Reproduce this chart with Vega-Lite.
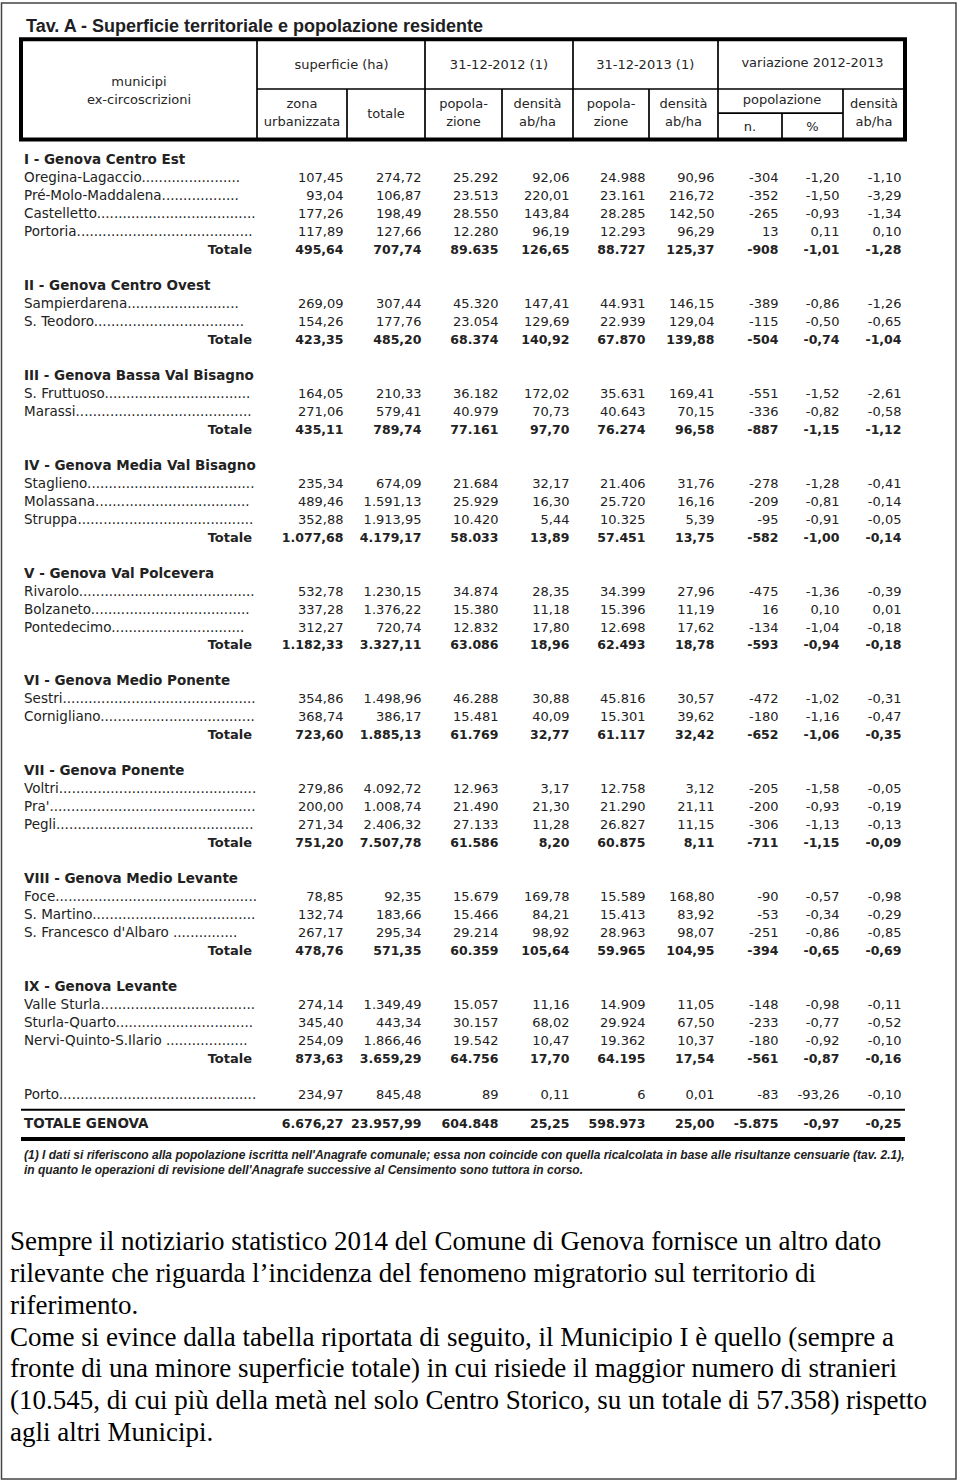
{
  "$schema": "https://vega.github.io/schema/vega-lite/v6.json",
  "width": 954.5,
  "height": 1476,
  "autosize": "none",
  "padding": {"left": 1.5, "top": 3, "right": 4, "bottom": 3},
  "background": "white",
  "config": {
    "view": {"stroke": "#444", "strokeWidth": 1.5},
    "locale": {"number": {"decimal": ",", "thousands": ".", "grouping": [3], "currency": ["€", ""], "minus": "-"}}
  },
  "datasets": {
    "cols": [
      {"key": "zona", "col": 2}, {"key": "totale", "col": 3}, {"key": "pop12", "col": 4},
      {"key": "dens12", "col": 5}, {"key": "pop13", "col": 6}, {"key": "dens13", "col": 7},
      {"key": "vn", "col": 8}, {"key": "vpct", "col": 9}, {"key": "vdens", "col": 10}
    ],
    "lines": [
      {"role": "box", "c0": 0, "c1": 10, "r0": -6.71, "r1": -1.14},
      {"role": "cell", "c0": 1, "c1": 1, "r0": -6.71, "r1": -1.14},
      {"role": "cell", "c0": 3, "c1": 3, "r0": -6.71, "r1": -1.14},
      {"role": "cell", "c0": 5, "c1": 5, "r0": -6.71, "r1": -1.14},
      {"role": "cell", "c0": 7, "c1": 7, "r0": -6.71, "r1": -1.14},
      {"role": "cell", "c0": 1, "c1": 10, "r0": -3.95, "r1": -3.95},
      {"role": "cell", "c0": 2, "c1": 2, "r0": -3.95, "r1": -1.14},
      {"role": "cell", "c0": 4, "c1": 4, "r0": -3.95, "r1": -1.14},
      {"role": "cell", "c0": 6, "c1": 6, "r0": -3.95, "r1": -1.14},
      {"role": "cell", "c0": 9, "c1": 9, "r0": -3.95, "r1": -1.14},
      {"role": "cell", "c0": 7, "c1": 9, "r0": -2.61, "r1": -2.61},
      {"role": "cell", "c0": 8, "c1": 8, "r0": -2.61, "r1": -1.14},
      {"role": "rule", "c0": 0, "c1": 10, "r0": 53, "r1": 53},
      {"role": "end", "c0": 0, "c1": 10, "r0": 55, "r1": 55}
    ],
    "texts": [
      {"role": "title", "text": "Tav. A - Superficie territoriale e popolazione residente", "col": 0, "r": -7.4},
      {"role": "head", "text": "municipi", "col": 0.5, "r": -4.34},
      {"role": "head", "text": "ex-circoscrizioni", "col": 0.5, "r": -3.31},
      {"role": "head", "text": "superficie (ha)", "col": 1.94, "r": -5.31},
      {"role": "head", "text": "31-12-2012 (1)", "col": 3.96, "r": -5.31},
      {"role": "head", "text": "31-12-2013 (1)", "col": 5.95, "r": -5.31},
      {"role": "head", "text": "variazione 2012-2013", "col": 8.5, "r": -5.42},
      {"role": "head", "text": "zona", "col": 1.5, "r": -3.11},
      {"role": "head", "text": "urbanizzata", "col": 1.5, "r": -2.11},
      {"role": "head", "text": "totale", "col": 2.5, "r": -2.56},
      {"role": "head", "text": "popola-", "col": 3.5, "r": -3.11},
      {"role": "head", "text": "zione", "col": 3.5, "r": -2.11},
      {"role": "head", "text": "densità", "col": 4.5, "r": -3.11},
      {"role": "head", "text": "ab/ha", "col": 4.5, "r": -2.11},
      {"role": "head", "text": "popola-", "col": 5.5, "r": -3.11},
      {"role": "head", "text": "zione", "col": 5.5, "r": -2.11},
      {"role": "head", "text": "densità", "col": 6.5, "r": -3.11},
      {"role": "head", "text": "ab/ha", "col": 6.5, "r": -2.11},
      {"role": "head", "text": "popolazione", "col": 8, "r": -3.31},
      {"role": "head", "text": "n.", "col": 7.5, "r": -1.86},
      {"role": "head", "text": "%", "col": 8.5, "r": -1.86},
      {"role": "head", "text": "densità", "col": 9.5, "r": -3.11},
      {"role": "head", "text": "ab/ha", "col": 9.5, "r": -2.11},
      {"role": "foot", "text": "(1) I dati si riferiscono alla popolazione iscritta nell'Anagrafe comunale; essa non coincide con quella ricalcolata in base alle risultanze censuarie (tav. 2.1),", "col": 0, "r": 56},
      {"role": "foot", "text": "in quanto le operazioni di revisione dell'Anagrafe successive al Censimento sono tuttora in corso.", "col": 0, "r": 57},
      {"role": "para", "text": "Sempre il notiziario statistico 2014 del Comune di Genova fornisce un altro dato", "col": -1, "r": 60},
      {"role": "para", "text": "rilevante che riguarda l’incidenza del fenomeno migratorio sul territorio di", "col": -1, "r": 61},
      {"role": "para", "text": "riferimento.", "col": -1, "r": 62},
      {"role": "para", "text": "Come si evince dalla tabella riportata di seguito, il Municipio I è quello (sempre a", "col": -1, "r": 63},
      {"role": "para", "text": "fronte di una minore superficie totale) in cui risiede il maggior numero di stranieri", "col": -1, "r": 64},
      {"role": "para", "text": "(10.545, di cui più della metà nel solo Centro Storico, su un totale di 57.358) rispetto", "col": -1, "r": 65},
      {"role": "para", "text": "agli altri Municipi.", "col": -1, "r": 66}
    ],
    "rows": [
      {"r": 0, "kind": "group", "label": "I - Genova Centro Est"},
      {"r": 1, "kind": "item", "label": "Oregina-Lagaccio.......................", "zona": 107.45, "totale": 274.72, "pop12": 25292, "dens12": 92.06, "pop13": 24988, "dens13": 90.96, "vn": -304, "vpct": -1.20, "vdens": -1.10},
      {"r": 2, "kind": "item", "label": "Pré-Molo-Maddalena..................", "zona": 93.04, "totale": 106.87, "pop12": 23513, "dens12": 220.01, "pop13": 23161, "dens13": 216.72, "vn": -352, "vpct": -1.50, "vdens": -3.29},
      {"r": 3, "kind": "item", "label": "Castelletto.....................................", "zona": 177.26, "totale": 198.49, "pop12": 28550, "dens12": 143.84, "pop13": 28285, "dens13": 142.50, "vn": -265, "vpct": -0.93, "vdens": -1.34},
      {"r": 4, "kind": "item", "label": "Portoria.........................................", "zona": 117.89, "totale": 127.66, "pop12": 12280, "dens12": 96.19, "pop13": 12293, "dens13": 96.29, "vn": 13, "vpct": 0.11, "vdens": 0.10},
      {"r": 5, "kind": "total", "label": "Totale", "zona": 495.64, "totale": 707.74, "pop12": 89635, "dens12": 126.65, "pop13": 88727, "dens13": 125.37, "vn": -908, "vpct": -1.01, "vdens": -1.28},
      {"r": 7, "kind": "group", "label": "II - Genova Centro Ovest"},
      {"r": 8, "kind": "item", "label": "Sampierdarena..........................", "zona": 269.09, "totale": 307.44, "pop12": 45320, "dens12": 147.41, "pop13": 44931, "dens13": 146.15, "vn": -389, "vpct": -0.86, "vdens": -1.26},
      {"r": 9, "kind": "item", "label": "S. Teodoro...................................", "zona": 154.26, "totale": 177.76, "pop12": 23054, "dens12": 129.69, "pop13": 22939, "dens13": 129.04, "vn": -115, "vpct": -0.50, "vdens": -0.65},
      {"r": 10, "kind": "total", "label": "Totale", "zona": 423.35, "totale": 485.20, "pop12": 68374, "dens12": 140.92, "pop13": 67870, "dens13": 139.88, "vn": -504, "vpct": -0.74, "vdens": -1.04},
      {"r": 12, "kind": "group", "label": "III - Genova Bassa Val Bisagno"},
      {"r": 13, "kind": "item", "label": "S. Fruttuoso..................................", "zona": 164.05, "totale": 210.33, "pop12": 36182, "dens12": 172.02, "pop13": 35631, "dens13": 169.41, "vn": -551, "vpct": -1.52, "vdens": -2.61},
      {"r": 14, "kind": "item", "label": "Marassi.........................................", "zona": 271.06, "totale": 579.41, "pop12": 40979, "dens12": 70.73, "pop13": 40643, "dens13": 70.15, "vn": -336, "vpct": -0.82, "vdens": -0.58},
      {"r": 15, "kind": "total", "label": "Totale", "zona": 435.11, "totale": 789.74, "pop12": 77161, "dens12": 97.70, "pop13": 76274, "dens13": 96.58, "vn": -887, "vpct": -1.15, "vdens": -1.12},
      {"r": 17, "kind": "group", "label": "IV - Genova Media Val Bisagno"},
      {"r": 18, "kind": "item", "label": "Staglieno.......................................", "zona": 235.34, "totale": 674.09, "pop12": 21684, "dens12": 32.17, "pop13": 21406, "dens13": 31.76, "vn": -278, "vpct": -1.28, "vdens": -0.41},
      {"r": 19, "kind": "item", "label": "Molassana....................................", "zona": 489.46, "totale": 1591.13, "pop12": 25929, "dens12": 16.30, "pop13": 25720, "dens13": 16.16, "vn": -209, "vpct": -0.81, "vdens": -0.14},
      {"r": 20, "kind": "item", "label": "Struppa.........................................", "zona": 352.88, "totale": 1913.95, "pop12": 10420, "dens12": 5.44, "pop13": 10325, "dens13": 5.39, "vn": -95, "vpct": -0.91, "vdens": -0.05},
      {"r": 21, "kind": "total", "label": "Totale", "zona": 1077.68, "totale": 4179.17, "pop12": 58033, "dens12": 13.89, "pop13": 57451, "dens13": 13.75, "vn": -582, "vpct": -1.00, "vdens": -0.14},
      {"r": 23, "kind": "group", "label": "V - Genova Val Polcevera"},
      {"r": 24, "kind": "item", "label": "Rivarolo.........................................", "zona": 532.78, "totale": 1230.15, "pop12": 34874, "dens12": 28.35, "pop13": 34399, "dens13": 27.96, "vn": -475, "vpct": -1.36, "vdens": -0.39},
      {"r": 25, "kind": "item", "label": "Bolzaneto.....................................", "zona": 337.28, "totale": 1376.22, "pop12": 15380, "dens12": 11.18, "pop13": 15396, "dens13": 11.19, "vn": 16, "vpct": 0.10, "vdens": 0.01},
      {"r": 26, "kind": "item", "label": "Pontedecimo...............................", "zona": 312.27, "totale": 720.74, "pop12": 12832, "dens12": 17.80, "pop13": 12698, "dens13": 17.62, "vn": -134, "vpct": -1.04, "vdens": -0.18},
      {"r": 27, "kind": "total", "label": "Totale", "zona": 1182.33, "totale": 3327.11, "pop12": 63086, "dens12": 18.96, "pop13": 62493, "dens13": 18.78, "vn": -593, "vpct": -0.94, "vdens": -0.18},
      {"r": 29, "kind": "group", "label": "VI - Genova Medio Ponente"},
      {"r": 30, "kind": "item", "label": "Sestri.............................................", "zona": 354.86, "totale": 1498.96, "pop12": 46288, "dens12": 30.88, "pop13": 45816, "dens13": 30.57, "vn": -472, "vpct": -1.02, "vdens": -0.31},
      {"r": 31, "kind": "item", "label": "Cornigliano....................................", "zona": 368.74, "totale": 386.17, "pop12": 15481, "dens12": 40.09, "pop13": 15301, "dens13": 39.62, "vn": -180, "vpct": -1.16, "vdens": -0.47},
      {"r": 32, "kind": "total", "label": "Totale", "zona": 723.60, "totale": 1885.13, "pop12": 61769, "dens12": 32.77, "pop13": 61117, "dens13": 32.42, "vn": -652, "vpct": -1.06, "vdens": -0.35},
      {"r": 34, "kind": "group", "label": "VII - Genova Ponente"},
      {"r": 35, "kind": "item", "label": "Voltri..............................................", "zona": 279.86, "totale": 4092.72, "pop12": 12963, "dens12": 3.17, "pop13": 12758, "dens13": 3.12, "vn": -205, "vpct": -1.58, "vdens": -0.05},
      {"r": 36, "kind": "item", "label": "Pra'................................................", "zona": 200.00, "totale": 1008.74, "pop12": 21490, "dens12": 21.30, "pop13": 21290, "dens13": 21.11, "vn": -200, "vpct": -0.93, "vdens": -0.19},
      {"r": 37, "kind": "item", "label": "Pegli..............................................", "zona": 271.34, "totale": 2406.32, "pop12": 27133, "dens12": 11.28, "pop13": 26827, "dens13": 11.15, "vn": -306, "vpct": -1.13, "vdens": -0.13},
      {"r": 38, "kind": "total", "label": "Totale", "zona": 751.20, "totale": 7507.78, "pop12": 61586, "dens12": 8.20, "pop13": 60875, "dens13": 8.11, "vn": -711, "vpct": -1.15, "vdens": -0.09},
      {"r": 40, "kind": "group", "label": "VIII - Genova Medio Levante"},
      {"r": 41, "kind": "item", "label": "Foce...............................................", "zona": 78.85, "totale": 92.35, "pop12": 15679, "dens12": 169.78, "pop13": 15589, "dens13": 168.80, "vn": -90, "vpct": -0.57, "vdens": -0.98},
      {"r": 42, "kind": "item", "label": "S. Martino......................................", "zona": 132.74, "totale": 183.66, "pop12": 15466, "dens12": 84.21, "pop13": 15413, "dens13": 83.92, "vn": -53, "vpct": -0.34, "vdens": -0.29},
      {"r": 43, "kind": "item", "label": "S. Francesco d'Albaro ...............", "zona": 267.17, "totale": 295.34, "pop12": 29214, "dens12": 98.92, "pop13": 28963, "dens13": 98.07, "vn": -251, "vpct": -0.86, "vdens": -0.85},
      {"r": 44, "kind": "total", "label": "Totale", "zona": 478.76, "totale": 571.35, "pop12": 60359, "dens12": 105.64, "pop13": 59965, "dens13": 104.95, "vn": -394, "vpct": -0.65, "vdens": -0.69},
      {"r": 46, "kind": "group", "label": "IX - Genova Levante"},
      {"r": 47, "kind": "item", "label": "Valle Sturla....................................", "zona": 274.14, "totale": 1349.49, "pop12": 15057, "dens12": 11.16, "pop13": 14909, "dens13": 11.05, "vn": -148, "vpct": -0.98, "vdens": -0.11},
      {"r": 48, "kind": "item", "label": "Sturla-Quarto................................", "zona": 345.40, "totale": 443.34, "pop12": 30157, "dens12": 68.02, "pop13": 29924, "dens13": 67.50, "vn": -233, "vpct": -0.77, "vdens": -0.52},
      {"r": 49, "kind": "item", "label": "Nervi-Quinto-S.Ilario ...................", "zona": 254.09, "totale": 1866.46, "pop12": 19542, "dens12": 10.47, "pop13": 19362, "dens13": 10.37, "vn": -180, "vpct": -0.92, "vdens": -0.10},
      {"r": 50, "kind": "total", "label": "Totale", "zona": 873.63, "totale": 3659.29, "pop12": 64756, "dens12": 17.70, "pop13": 64195, "dens13": 17.54, "vn": -561, "vpct": -0.87, "vdens": -0.16},
      {"r": 52, "kind": "item", "label": "Porto..............................................", "zona": 234.97, "totale": 845.48, "pop12": 89, "dens12": 0.11, "pop13": 6, "dens13": 0.01, "vn": -83, "vpct": -93.26, "vdens": -0.10},
      {"r": 54, "kind": "grand", "label": "TOTALE GENOVA", "zona": 6676.27, "totale": 23957.99, "pop12": 604848, "dens12": 25.25, "pop13": 598973, "dens13": 25.00, "vn": -5875, "vpct": -0.97, "vdens": -0.25}
    ]
  },
  "layer": [
    {
      "data": {"name": "lines"},
      "transform": [{"filter": "datum.role == 'box'"}],
      "mark": {"type": "rect", "fill": "transparent", "stroke": "#000", "strokeWidth": 4},
      "encoding": {
        "x": {"field": "c0", "type": "quantitative", "scale": {"domain": [-1, 0, 1, 2, 3, 4, 5, 6, 7, 8, 9, 10], "range": [8.5, 19.5, 255.5, 345.5, 423.5, 500.5, 571.5, 647.5, 716.5, 780.5, 841.5, 903.5], "nice": false, "zero": false}, "axis": null},
        "x2": {"field": "c1"},
        "y": {"field": "r0", "type": "quantitative", "scale": {"domain": [-9, 52, 55, 57, 60, 66], "range": [-4.82, 1092, 1136, 1167, 1239, 1430], "nice": false, "zero": false}, "axis": null},
        "y2": {"field": "r1"}
      }
    },
    {
      "data": {"name": "lines"},
      "transform": [{"filter": "datum.role == 'cell'"}],
      "mark": {"type": "rule", "color": "#000", "strokeWidth": 1.7},
      "encoding": {
        "x": {"field": "c0", "type": "quantitative", "axis": null},
        "x2": {"field": "c1"},
        "y": {"field": "r0", "type": "quantitative", "axis": null},
        "y2": {"field": "r1"}
      }
    },
    {
      "data": {"name": "lines"},
      "transform": [{"filter": "datum.role == 'rule'"}],
      "mark": {"type": "rule", "color": "#000", "strokeWidth": 2},
      "encoding": {
        "x": {"field": "c0", "type": "quantitative", "axis": null},
        "x2": {"field": "c1"},
        "y": {"field": "r0", "type": "quantitative", "axis": null},
        "y2": {"field": "r1"}
      }
    },
    {
      "data": {"name": "lines"},
      "transform": [{"filter": "datum.role == 'end'"}],
      "mark": {"type": "rule", "color": "#000", "strokeWidth": 4},
      "encoding": {
        "x": {"field": "c0", "type": "quantitative", "axis": null},
        "x2": {"field": "c1"},
        "y": {"field": "r0", "type": "quantitative", "axis": null},
        "y2": {"field": "r1"}
      }
    },
    {
      "data": {"name": "texts"},
      "transform": [{"filter": "datum.role == 'title'"}],
      "mark": {"type": "text", "font": "Liberation Sans", "fontWeight": "bold", "fontSize": 18, "align": "left", "baseline": "middle", "dx": 5, "color": "#1e1e24"},
      "encoding": {
        "x": {"field": "col", "type": "quantitative", "axis": null},
        "y": {"field": "r", "type": "quantitative", "axis": null},
        "text": {"field": "text"}
      }
    },
    {
      "data": {"name": "texts"},
      "transform": [{"filter": "datum.role == 'head'"}],
      "mark": {"type": "text", "font": "DejaVu Sans", "fontSize": 13, "align": "center", "baseline": "middle", "color": "#262626"},
      "encoding": {
        "x": {"field": "col", "type": "quantitative", "axis": null},
        "y": {"field": "r", "type": "quantitative", "axis": null},
        "text": {"field": "text"}
      }
    },
    {
      "data": {"name": "texts"},
      "transform": [{"filter": "datum.role == 'foot'"}],
      "mark": {"type": "text", "font": "Liberation Sans", "fontStyle": "italic", "fontWeight": "bold", "fontSize": 12, "align": "left", "baseline": "middle", "dx": 3, "color": "#222"},
      "encoding": {
        "x": {"field": "col", "type": "quantitative", "axis": null},
        "y": {"field": "r", "type": "quantitative", "axis": null},
        "text": {"field": "text"}
      }
    },
    {
      "data": {"name": "texts"},
      "transform": [{"filter": "datum.role == 'para'"}],
      "mark": {"type": "text", "font": "Liberation Serif", "fontSize": 27, "align": "left", "baseline": "middle", "color": "#000"},
      "encoding": {
        "x": {"field": "col", "type": "quantitative", "axis": null},
        "y": {"field": "r", "type": "quantitative", "axis": null},
        "text": {"field": "text"}
      }
    },
    {
      "data": {"name": "rows"},
      "transform": [{"filter": "datum.kind == 'group'"}],
      "mark": {"type": "text", "font": "DejaVu Sans", "fontWeight": "bold", "fontSize": 13.5, "align": "left", "baseline": "middle", "dx": 3, "color": "#222"},
      "encoding": {
        "x": {"datum": 0, "type": "quantitative", "axis": null},
        "y": {"field": "r", "type": "quantitative", "axis": null},
        "text": {"field": "label"}
      }
    },
    {
      "data": {"name": "rows"},
      "transform": [{"filter": "datum.kind == 'item'"}],
      "mark": {"type": "text", "font": "DejaVu Sans", "fontSize": 13.5, "align": "left", "baseline": "middle", "dx": 3, "color": "#222"},
      "encoding": {
        "x": {"datum": 0, "type": "quantitative", "axis": null},
        "y": {"field": "r", "type": "quantitative", "axis": null},
        "text": {"field": "label"}
      }
    },
    {
      "data": {"name": "rows"},
      "transform": [{"filter": "datum.kind == 'total'"}],
      "mark": {"type": "text", "font": "DejaVu Sans", "fontWeight": "bold", "fontSize": 13, "align": "right", "baseline": "middle", "dx": -5, "color": "#222"},
      "encoding": {
        "x": {"datum": 1, "type": "quantitative", "axis": null},
        "y": {"field": "r", "type": "quantitative", "axis": null},
        "text": {"field": "label"}
      }
    },
    {
      "data": {"name": "rows"},
      "transform": [{"filter": "datum.kind == 'grand'"}],
      "mark": {"type": "text", "font": "DejaVu Sans", "fontWeight": "bold", "fontSize": 13.5, "align": "left", "baseline": "middle", "dx": 3, "color": "#222"},
      "encoding": {
        "x": {"datum": 0, "type": "quantitative", "axis": null},
        "y": {"field": "r", "type": "quantitative", "axis": null},
        "text": {"field": "label"}
      }
    },
    {
      "data": {"name": "rows"},
      "transform": [
        {"filter": "datum.kind == 'item'"},
        {"fold": ["zona", "totale", "dens12", "dens13", "vpct", "vdens"], "as": ["key", "value"]},
        {"lookup": "key", "from": {"data": {"name": "cols"}, "key": "key", "fields": ["col"]}}
      ],
      "mark": {"type": "text", "font": "DejaVu Sans", "fontSize": 13, "align": "right", "baseline": "middle", "dx": -3.5, "color": "#222"},
      "encoding": {
        "x": {"field": "col", "type": "quantitative", "axis": null},
        "y": {"field": "r", "type": "quantitative", "axis": null},
        "text": {"field": "value", "type": "quantitative", "format": ",.2f"}
      }
    },
    {
      "data": {"name": "rows"},
      "transform": [
        {"filter": "datum.kind == 'item'"},
        {"fold": ["pop12", "pop13", "vn"], "as": ["key", "value"]},
        {"lookup": "key", "from": {"data": {"name": "cols"}, "key": "key", "fields": ["col"]}}
      ],
      "mark": {"type": "text", "font": "DejaVu Sans", "fontSize": 13, "align": "right", "baseline": "middle", "dx": -3.5, "color": "#222"},
      "encoding": {
        "x": {"field": "col", "type": "quantitative", "axis": null},
        "y": {"field": "r", "type": "quantitative", "axis": null},
        "text": {"field": "value", "type": "quantitative", "format": ",d"}
      }
    },
    {
      "data": {"name": "rows"},
      "transform": [
        {"filter": "datum.kind == 'total' || datum.kind == 'grand'"},
        {"fold": ["zona", "totale", "dens12", "dens13", "vpct", "vdens"], "as": ["key", "value"]},
        {"lookup": "key", "from": {"data": {"name": "cols"}, "key": "key", "fields": ["col"]}}
      ],
      "mark": {"type": "text", "font": "DejaVu Sans", "fontWeight": "bold", "fontSize": 12.5, "align": "right", "baseline": "middle", "dx": -3.5, "color": "#222"},
      "encoding": {
        "x": {"field": "col", "type": "quantitative", "axis": null},
        "y": {"field": "r", "type": "quantitative", "axis": null},
        "text": {"field": "value", "type": "quantitative", "format": ",.2f"}
      }
    },
    {
      "data": {"name": "rows"},
      "transform": [
        {"filter": "datum.kind == 'total' || datum.kind == 'grand'"},
        {"fold": ["pop12", "pop13", "vn"], "as": ["key", "value"]},
        {"lookup": "key", "from": {"data": {"name": "cols"}, "key": "key", "fields": ["col"]}}
      ],
      "mark": {"type": "text", "font": "DejaVu Sans", "fontWeight": "bold", "fontSize": 12.5, "align": "right", "baseline": "middle", "dx": -3.5, "color": "#222"},
      "encoding": {
        "x": {"field": "col", "type": "quantitative", "axis": null},
        "y": {"field": "r", "type": "quantitative", "axis": null},
        "text": {"field": "value", "type": "quantitative", "format": ",d"}
      }
    }
  ]
}
